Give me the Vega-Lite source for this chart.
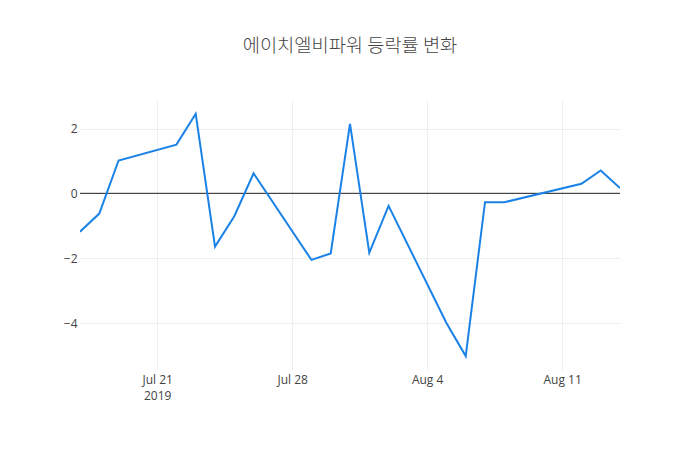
{
  "$schema": "https://vega.github.io/schema/vega-lite/v6.json",
  "autosize": "none",
  "width": 540,
  "height": 270,
  "padding": {"left": 80, "top": 100, "right": 80, "bottom": 80},
  "background": "white",
  "title": {
    "text": "에이치엘비파워 등락률 변화",
    "anchor": "middle",
    "frame": "group",
    "font": "Noto Sans CJK KR",
    "fontSize": 18.7,
    "fontWeight": 300,
    "color": "#444444",
    "offset": 44
  },
  "data": {
    "values": [
      {"date": "2019-07-17", "rate": -1.18},
      {"date": "2019-07-18", "rate": -0.62},
      {"date": "2019-07-19", "rate": 1.02},
      {"date": "2019-07-22", "rate": 1.51},
      {"date": "2019-07-23", "rate": 2.46},
      {"date": "2019-07-24", "rate": -1.64},
      {"date": "2019-07-25", "rate": -0.70},
      {"date": "2019-07-26", "rate": 0.62},
      {"date": "2019-07-29", "rate": -2.05},
      {"date": "2019-07-30", "rate": -1.85},
      {"date": "2019-07-31", "rate": 2.15},
      {"date": "2019-08-01", "rate": -1.83},
      {"date": "2019-08-02", "rate": -0.38},
      {"date": "2019-08-05", "rate": -4.0},
      {"date": "2019-08-06", "rate": -5.02},
      {"date": "2019-08-07", "rate": -0.27},
      {"date": "2019-08-08", "rate": -0.27},
      {"date": "2019-08-12", "rate": 0.30},
      {"date": "2019-08-13", "rate": 0.71},
      {"date": "2019-08-14", "rate": 0.17}
    ]
  },
  "layer": [
    {
      "mark": {"type": "rule", "color": "#444444", "strokeWidth": 1},
      "encoding": {"y": {"datum": 0, "type": "quantitative"}}
    },
    {
      "mark": {"type": "line", "color": "#1a82e6", "strokeWidth": 2, "clip": true},
      "encoding": {
        "x": {
          "field": "date",
          "type": "temporal",
          "scale": {"type": "utc", "domain": [{"year": 2019, "month": 7, "date": 17, "utc": true}, {"year": 2019, "month": 8, "date": 14, "utc": true}]},
          "axis": {
            "title": null,
            "values": [
              {"year": 2019, "month": 7, "date": 21, "utc": true},
              {"year": 2019, "month": 7, "date": 28, "utc": true},
              {"year": 2019, "month": 8, "date": 4, "utc": true},
              {"year": 2019, "month": 8, "date": 11, "utc": true}
            ],
            "labelExpr": "utcFormat(datum.value, '%d') == '21' && utcFormat(datum.value, '%m') == '07' ? ['Jul 21', '2019'] : utcFormat(datum.value, '%b %-d')",
            "domain": false,
            "ticks": false,
            "grid": true,
            "gridColor": "#eeeeee",
            "labelFont": "Open Sans",
            "labelFontSize": 12,
            "labelColor": "#444444",
            "labelPadding": 4,
            "labelLineHeight": 16
          }
        },
        "y": {
          "field": "rate",
          "type": "quantitative",
          "scale": {"domain": [-5.45, 2.887], "nice": false, "zero": false},
          "axis": {
            "title": null,
            "values": [-4, -2, 0, 2],
            "domain": false,
            "ticks": false,
            "grid": true,
            "gridColor": "#eeeeee",
            "labelFont": "Open Sans",
            "labelFontSize": 12,
            "labelColor": "#444444",
            "labelPadding": 3
          }
        }
      }
    }
  ],
  "config": {"view": {"stroke": null}}
}
